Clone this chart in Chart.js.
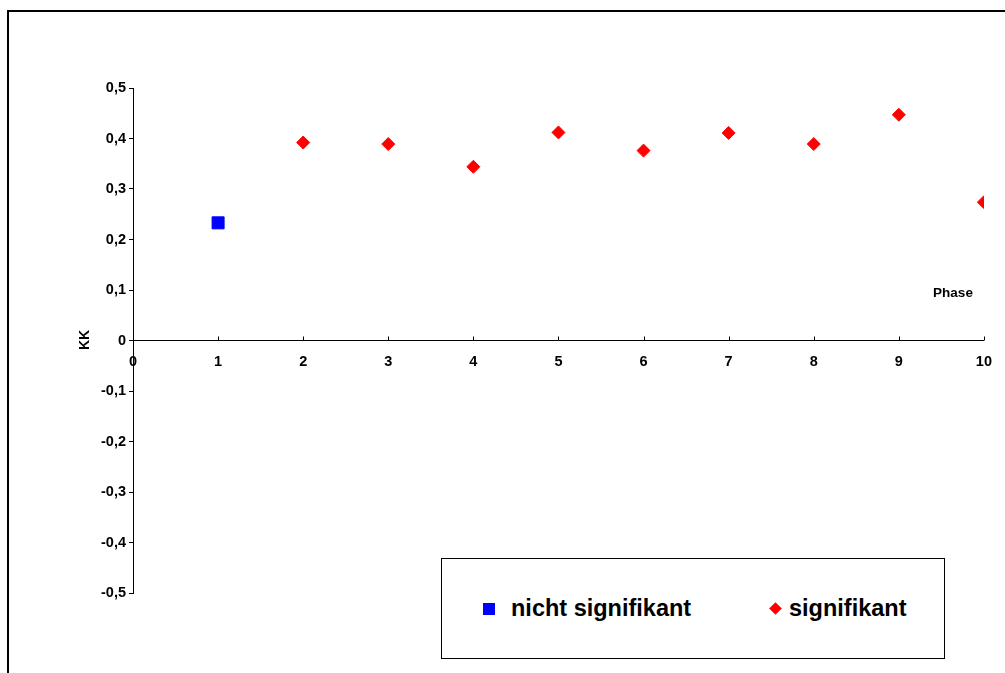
<!DOCTYPE html>
<html>
<head>
<meta charset="utf-8">
<script src="https://cdn.jsdelivr.net/npm/chart.js@4.4.1/dist/chart.umd.min.js"></script>
<style>
    body { margin: 0; background: #fff; font-family: "Liberation Sans", Arial, sans-serif; }
    #frame { position: absolute; left: 7px; top: 10px; width: 1010px; height: 680px;
             border-left: 2px solid #000; border-top: 2px solid #000; }
    #wrap { position: absolute; left: 0; top: 0; width: 1005px; height: 673px; }
    #legend { position: absolute; left: 441px; top: 558px; width: 502px; height: 99px;
              border: 1px solid #000; background: #fff; font-weight: bold; font-size: 23.5px; }
    .item { position: absolute; top: 36px; display: flex; align-items: center; }
    .box { display: inline-block; }
</style>
</head>
<body>
<div id="frame"></div>
<div id="wrap"><canvas id="kkChart" width="1005" height="673"></canvas></div>
<div id="legend"></div>
<script>
// Daten
const phases = [1, 2, 3, 4, 5, 6, 7, 8, 9, 10];
const kkValues = [0.233, 0.392, 0.389, 0.344, 0.412, 0.376, 0.411, 0.389, 0.447, 0.274];
const significant = [false, true, true, true, true, true, true, true, true, true];
const seriesNames = ['nicht signifikant', 'signifikant'];
const seriesColors = ['#0000ff', '#ff0000'];
const xTicks = [0, 1, 2, 3, 4, 5, 6, 7, 8, 9, 10];
const yTicks = [-0.5, -0.4, -0.3, -0.2, -0.1, 0, 0.1, 0.2, 0.3, 0.4, 0.5];

const tickFont = { family: '"Liberation Sans", Arial', size: 14.5, weight: 'bold' };

// Format with German decimal comma
function fmt(v) {
    if (Math.abs(v) < 1e-9) return '0';
    return v.toFixed(1).replace('.', ',');
}

function pointsFor(flag) {
    const pts = [];
    phases.forEach((p, i) => {
        if (significant[i] === flag) pts.push({ x: p, y: kkValues[i] });
    });
    return pts;
}

// Axis titles and upward x tick marks
const axisExtras = {
    id: 'axisExtras',
    afterDraw(chart) {
        const ctx = chart.ctx;
        const xs = chart.scales.x, ys = chart.scales.y;
        const y0 = ys.getPixelForValue(0);
        ctx.save();
        ctx.strokeStyle = '#000';
        ctx.lineWidth = 1;
        xTicks.forEach(t => {
            if (t === 0) return;
            const px = Math.round(xs.getPixelForValue(t)) + 0.5;
            ctx.beginPath();
            ctx.moveTo(px, y0);
            ctx.lineTo(px, y0 - 4);
            ctx.stroke();
        });
        ctx.fillStyle = '#000';
        ctx.font = 'bold 13.5px "Liberation Sans", Arial, sans-serif';
        ctx.textAlign = 'center';
        ctx.textBaseline = 'middle';
        ctx.fillText('Phase', 953, 293);
        ctx.translate(85, 340);
        ctx.rotate(-Math.PI / 2);
        ctx.font = 'bold 14px "Liberation Sans", Arial, sans-serif';
        ctx.fillText('KK', 0, 0);
        ctx.restore();
    }
};

const ctx = document.getElementById('kkChart').getContext('2d');
new Chart(ctx, {
    type: 'scatter',
    data: {
        datasets: [{
            label: seriesNames[0],
            data: pointsFor(false),
            pointStyle: 'rect',
            pointRadius: 8.5,
            pointHoverRadius: 8.5,
            backgroundColor: seriesColors[0],
            borderColor: seriesColors[0],
            borderWidth: 1
        }, {
            label: seriesNames[1],
            data: pointsFor(true),
            pointStyle: 'rectRot',
            pointRadius: 6.5,
            pointHoverRadius: 6.5,
            backgroundColor: seriesColors[1],
            borderColor: seriesColors[1],
            borderWidth: 1
        }]
    },
    options: {
        responsive: false,
        animation: false,
        layout: { padding: { left: 93, right: 20, top: 88, bottom: 80 } },
        plugins: { legend: { display: false }, tooltip: { enabled: false } },
        scales: {
            x: {
                type: 'linear',
                min: 0, max: 10,
                position: { y: 0 },
                afterBuildTicks: s => { s.ticks = xTicks.map(v => ({ value: v })); },
                grid: { drawOnChartArea: false, drawTicks: false },
                border: { color: '#000', width: 1 },
                ticks: {
                    padding: 13,
                    color: '#000',
                    font: tickFont,
                    callback: v => String(v)
                }
            },
            y: {
                type: 'linear',
                min: -0.5, max: 0.5,
                position: 'left',
                afterBuildTicks: s => { s.ticks = yTicks.map(v => ({ value: v })); },
                afterFit: s => { s.width = 40; },
                grid: { drawOnChartArea: false, drawTicks: true, tickLength: 4, color: '#000' },
                border: { color: '#000', width: 1 },
                ticks: {
                    padding: 3,
                    color: '#000',
                    font: tickFont,
                    callback: v => fmt(v)
                }
            }
        }
    },
    plugins: [axisExtras]
});

// HTML legend built from the series
const legend = document.getElementById('legend');
const itemLeft = [41, 329];
seriesNames.forEach((name, i) => {
    const item = document.createElement('div');
    item.className = 'item';
    item.style.left = itemLeft[i] + 'px';
    const box = document.createElement('span');
    box.className = 'box';
    box.style.background = seriesColors[i];
    if (i === 0) {
        box.style.width = '12px';
        box.style.height = '12px';
        box.style.marginRight = '16px';
    } else {
        box.style.width = '9px';
        box.style.height = '9px';
        box.style.transform = 'rotate(45deg)';
        box.style.marginRight = '9px';
    }
    item.appendChild(box);
    item.appendChild(document.createTextNode(name));
    legend.appendChild(item);
});
</script>
</body>
</html>
